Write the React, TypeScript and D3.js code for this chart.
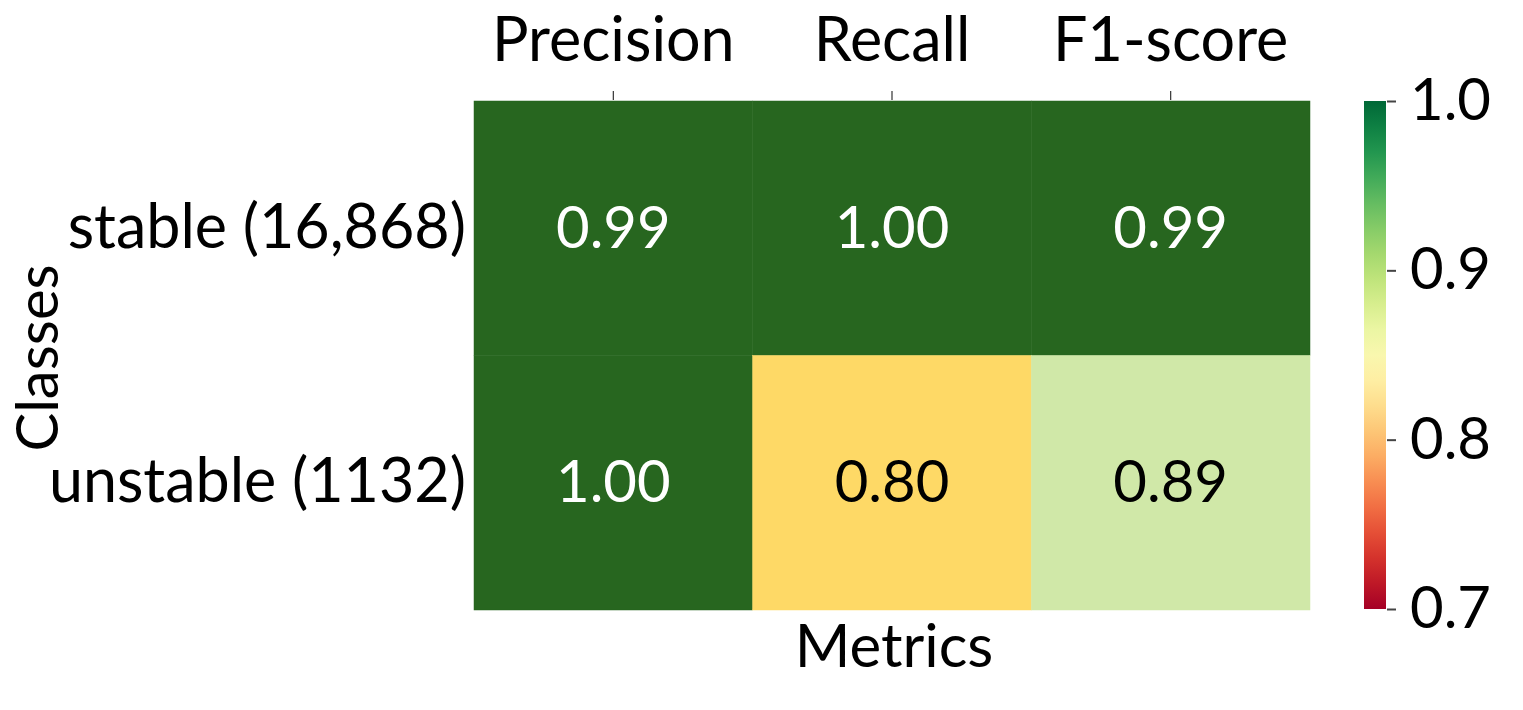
import React, { useEffect, useRef } from "react";
import * as d3 from "d3";

const metrics = ["Precision", "Recall", "F1-score"];
const classes = ["stable (16,868)", "unstable (1132)"];
const stableValues = [0.99, 1.0, 0.99];
const unstableValues = [1.0, 0.8, 0.89];
const colorbarTicks = [0.7, 0.8, 0.9, 1.0];

const FONT = "Lato, 'Open Sans', sans-serif";

export default function App() {
  const ref = useRef<SVGSVGElement | null>(null);

  useEffect(() => {
    const svg = d3.select(ref.current);
    svg.selectAll("*").remove();

    const rows = [stableValues, unstableValues];
    const cells = rows.flatMap((vals, ri) =>
      vals.map((v, ci) => ({ row: classes[ri], col: metrics[ci], v }))
    );

    const x = d3.scaleBand<string>().domain(metrics).range([474, 1310]);
    const y = d3.scaleBand<string>().domain(classes).range([101, 610]);

    const cellColor = d3
      .scaleLinear<string>()
      .domain([0.8, 0.89, 0.99, 1.0])
      .range(["#fed966", "#d0e8a8", "#27661f", "#27661f"])
      .clamp(true);

    const g = svg.append("g");
    g.selectAll("rect.cell")
      .data(cells)
      .join("rect")
      .attr("class", "cell")
      .attr("x", (d) => x(d.col)!)
      .attr("y", (d) => y(d.row)!)
      .attr("width", x.bandwidth())
      .attr("height", y.bandwidth())
      .attr("fill", (d) => cellColor(d.v))
      .attr("stroke", (d) => cellColor(d.v))
      .attr("stroke-width", 0.5);

    g.selectAll("text.val")
      .data(cells)
      .join("text")
      .attr("class", "val")
      .attr("x", (d) => x(d.col)! + x.bandwidth() / 2)
      .attr("y", (d) => y(d.row)! + y.bandwidth() / 2 - 3)
      .attr("text-anchor", "middle")
      .attr("dominant-baseline", "central")
      .attr("font-family", FONT)
      .attr("font-size", 58)
      .attr("fill", (d) => (d.v >= 0.95 ? "#ffffff" : "#000000"))
      .text((d) => d.v.toFixed(2));

    // top axis
    const xAxis = svg
      .append("g")
      .attr("transform", "translate(0,100)")
      .call(d3.axisTop(x).tickSize(9).tickPadding(30));
    xAxis.select(".domain").remove();
    xAxis.selectAll("line").attr("stroke", "#333").attr("stroke-width", 1.2);
    xAxis
      .selectAll("text")
      .attr("font-family", FONT)
      .attr("font-size", 61)
      .attr("fill", "#000");

    // left axis
    const yAxis = svg
      .append("g")
      .attr("transform", "translate(474,0)")
      .call(d3.axisLeft(y).tickSize(0).tickPadding(8));
    yAxis.select(".domain").remove();
    yAxis
      .selectAll("text")
      .attr("font-family", FONT)
      .attr("font-size", 61)
      .attr("fill", "#000");

    // axis titles
    svg
      .append("text")
      .attr("x", 894)
      .attr("y", 667)
      .attr("text-anchor", "middle")
      .attr("font-family", FONT)
      .attr("font-size", 60)
      .text("Metrics");
    svg
      .append("text")
      .attr("transform", "translate(58,358) rotate(-90)")
      .attr("text-anchor", "middle")
      .attr("font-family", FONT)
      .attr("font-size", 58)
      .text("Classes");

    // colorbar
    const cb = d3.scaleLinear().domain([0.7, 1.0]).range([609, 101]);
    const defs = svg.append("defs");
    const grad = defs
      .append("linearGradient")
      .attr("id", "cbgrad")
      .attr("x1", 0)
      .attr("y1", 1)
      .attr("x2", 0)
      .attr("y2", 0);
    d3.range(0, 1.0001, 0.05).forEach((t) => {
      grad
        .append("stop")
        .attr("offset", t)
        .attr("stop-color", d3.interpolateRdYlGn(t));
    });
    svg
      .append("rect")
      .attr("x", 1364)
      .attr("y", cb(1.0))
      .attr("width", 22)
      .attr("height", cb(0.7) - cb(1.0))
      .attr("fill", "url(#cbgrad)");
    const cbAxis = svg
      .append("g")
      .attr("transform", "translate(1387,0)")
      .call(
        d3
          .axisRight(cb)
          .tickValues(colorbarTicks)
          .tickFormat(d3.format(".1f"))
          .tickSize(9)
          .tickPadding(14)
      );
    cbAxis.select(".domain").remove();
    cbAxis.selectAll("line").attr("stroke", "#444").attr("stroke-width", 2);
    cbAxis
      .selectAll("text")
      .attr("font-family", FONT)
      .attr("font-size", 58)
      .attr("fill", "#000");
  }, []);

  return (
    <svg
      ref={ref}
      width={1523}
      height={710}
      style={{ position: "absolute", left: 0, top: 0, background: "#fff" }}
    />
  );
}
